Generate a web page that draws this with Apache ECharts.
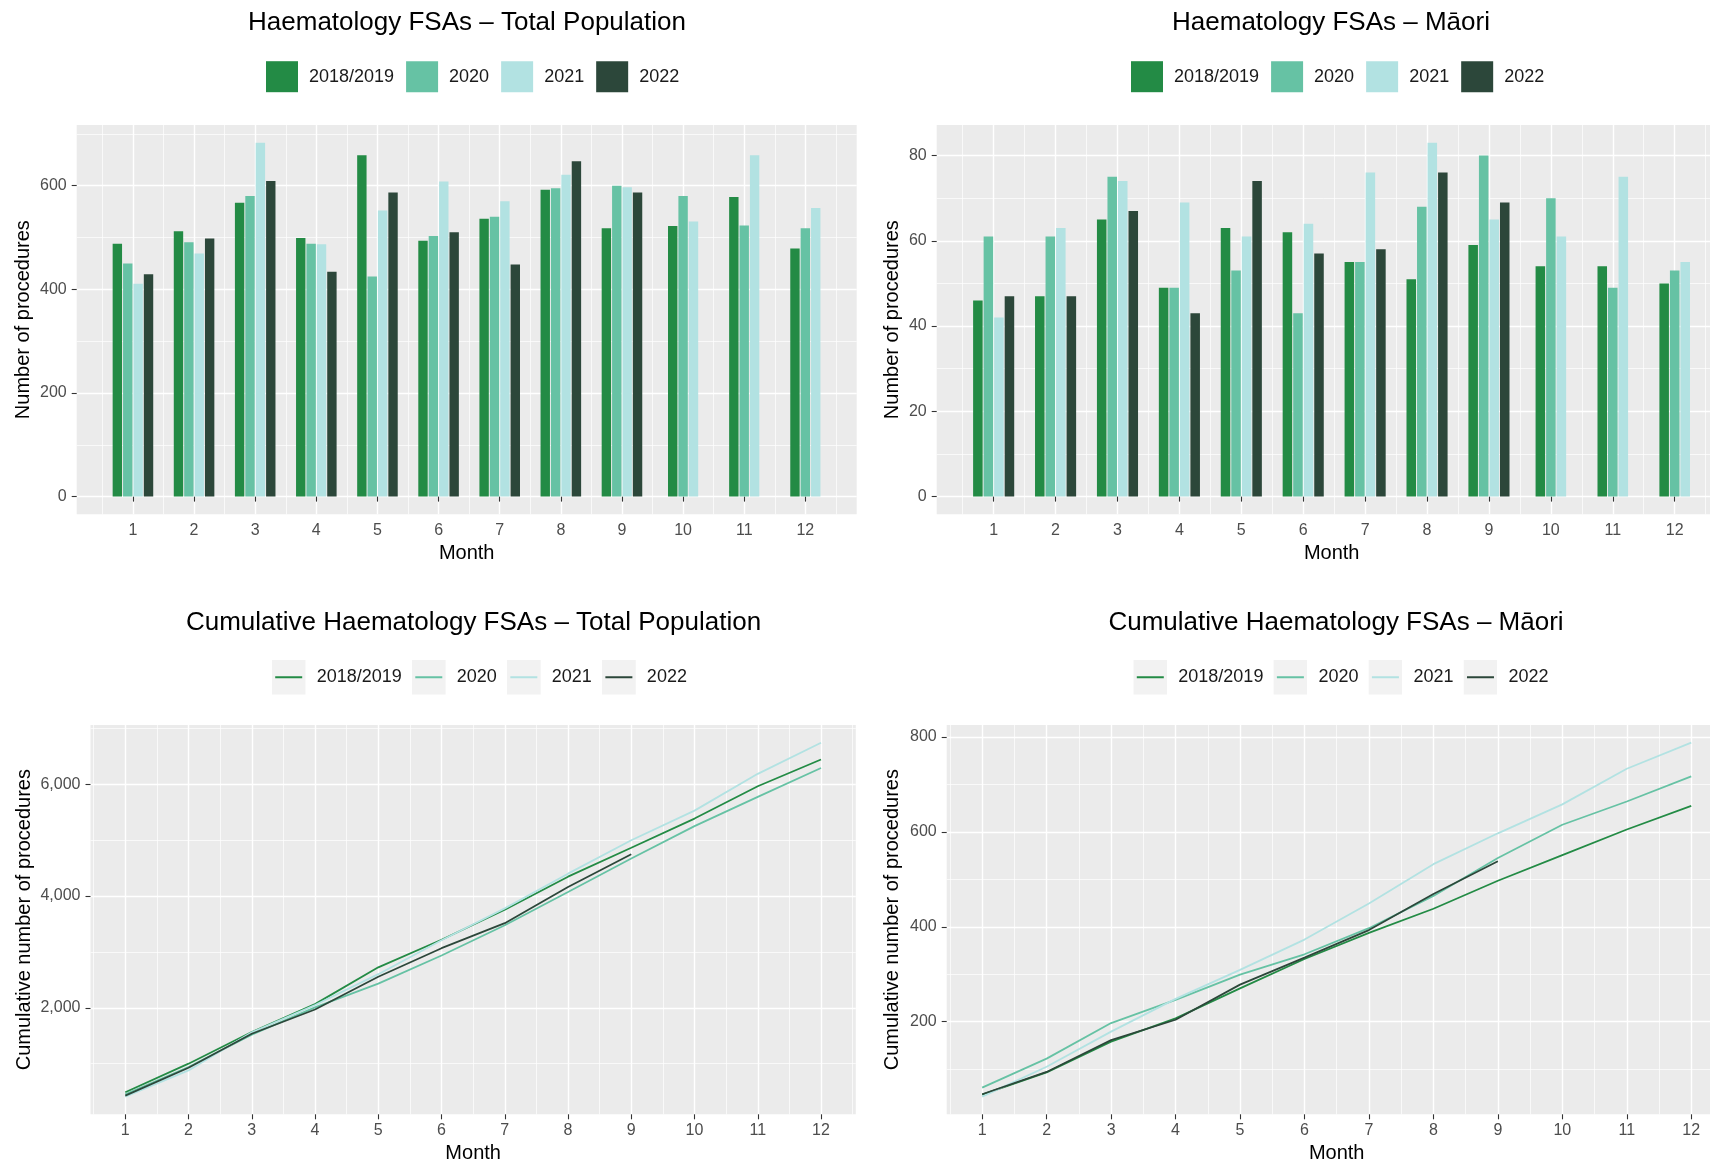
<!DOCTYPE html>
<html>
<head>
<meta charset="utf-8">
<title>Haematology FSAs</title>
<script src="https://cdn.jsdelivr.net/npm/echarts@6/dist/echarts.min.js"></script>
<style>
  html, body { margin: 0; padding: 0; background: #ffffff; }
  #chart { width: 1710px; height: 1165px; }
</style>
</head>
<body>
<div id="chart"></div>
<script>
// ---- Data -------------------------------------------------------------
const years = ['2018/2019', '2020', '2021', '2022'];
const months = [1, 2, 3, 4, 5, 6, 7, 8, 9, 10, 11, 12];
const halfMonths = [0.5, 1.5, 2.5, 3.5, 4.5, 5.5, 6.5, 7.5, 8.5, 9.5, 10.5, 11.5, 12.5];

// Monthly FSAs, total population
const total2018 = [488, 512, 567, 499, 659, 494, 536, 592, 518, 522, 578, 479];
const total2020 = [450, 491, 580, 488, 425, 503, 540, 595, 600, 580, 523, 518];
const total2021 = [411, 469, 683, 487, 552, 608, 570, 621, 597, 531, 659, 557];
const total2022 = [429, 498, 609, 434, 587, 510, 448, 647, 587, null, null, null];

// Monthly FSAs, Māori
const maori2018 = [46, 47, 65, 49, 63, 62, 55, 51, 59, 54, 54, 50];
const maori2020 = [61, 61, 75, 49, 53, 43, 55, 68, 80, 70, 49, 53];
const maori2021 = [42, 63, 74, 69, 61, 64, 76, 83, 65, 61, 75, 55];
const maori2022 = [47, 47, 67, 43, 74, 57, 58, 76, 69, null, null, null];

// Cumulative FSAs, total population
const cumTotal2018 = [488, 1000, 1567, 2066, 2725, 3219, 3755, 4347, 4865, 5387, 5965, 6444];
const cumTotal2020 = [450, 941, 1521, 2009, 2434, 2937, 3477, 4072, 4672, 5252, 5775, 6293];
const cumTotal2021 = [411, 880, 1563, 2050, 2602, 3210, 3780, 4401, 4998, 5529, 6188, 6745];
const cumTotal2022 = [429, 927, 1536, 1970, 2557, 3067, 3515, 4162, 4749];

// Cumulative FSAs, Māori
const cumMaori2018 = [46, 93, 158, 207, 270, 332, 387, 438, 497, 551, 605, 655];
const cumMaori2020 = [61, 122, 197, 246, 299, 342, 397, 465, 545, 615, 664, 717];
const cumMaori2021 = [42, 105, 179, 248, 309, 373, 449, 532, 597, 658, 733, 788];
const cumMaori2022 = [47, 94, 161, 204, 278, 335, 393, 469, 538];

// Axis breaks
const totalTicks = [0, 200, 400, 600];
const totalMinorTicks = [100, 300, 500, 700];
const maoriTicks = [0, 20, 40, 60, 80];
const maoriMinorTicks = [10, 30, 50, 70];
const cumTotalTicks = [2000, 4000, 6000];
const cumTotalMinorTicks = [1000, 3000, 5000, 7000];
const cumMaoriTicks = [200, 400, 600, 800];
const cumMaoriMinorTicks = [100, 300, 500, 700];

// ---- Styling ------------------------------------------------------------
const FONT = "'Liberation Sans', Arial, Helvetica, sans-serif";
const COLORS = ['#238B45', '#66C2A4', '#B2E2E2', '#2C473A'];
const PANEL = '#EBEBEB';
const SLOT = 0.17;           // width of one dodged bar, in month units

// Continuous scale limits with 5% padding around the data extent
function padded(lo, hi) {
  const d = (hi - lo) * 0.05;
  return [lo - d, hi + d];
}

function pairAxes(grid, range, major, minor, extra) {
  const main = Object.assign({
    type: 'value', gridIndex: grid, min: range[0], max: range[1],
    axisLine: { show: false },
    axisTick: { show: true, length: 5, customValues: major, lineStyle: { color: '#333333', width: 1.1 } },
    axisLabel: { show: true, customValues: major, color: '#4D4D4D', fontSize: 16, fontFamily: FONT },
    splitLine: { show: true, lineStyle: { color: '#FFFFFF', width: 1.4 } },
    nameLocation: 'middle',
    nameTextStyle: { color: '#000000', fontSize: 20, fontFamily: FONT }
  }, extra);
  main.axisLabel = Object.assign(main.axisLabel, extra.axisLabelExtra || {});
  delete main.axisLabelExtra;
  const sub = {
    type: 'value', gridIndex: grid, min: range[0], max: range[1],
    axisLine: { show: false },
    axisTick: { show: false, customValues: minor },
    axisLabel: { show: false },
    splitLine: { show: true, lineStyle: { color: '#FFFFFF', width: 0.7 } }
  };
  return [main, sub];
}

const thousands = v => Number(v).toLocaleString('en-US');

// ---- Layout -------------------------------------------------------------
const grids = [
  { left: 76.7, top: 125, width: 780, height: 389.3 },
  { left: 936.7, top: 125, width: 790, height: 389.3 },
  { left: 90.5, top: 725, width: 765.3, height: 389.3 },
  { left: 946.7, top: 725, width: 780, height: 389.3 }
].map(g => Object.assign(g, {
  show: true, backgroundColor: PANEL, borderWidth: 0,
  containLabel: false, outerBoundsMode: 'none'
}));

const barX = [0.08, 12.84];
const lineX = padded(1, 12);

const xAxes = [].concat(
  pairAxes(0, barX, months, halfMonths, { name: 'Month', nameGap: 29, axisLabelExtra: { margin: 8 } }),
  pairAxes(1, barX, months, halfMonths, { name: 'Month', nameGap: 29, axisLabelExtra: { margin: 8 } }),
  pairAxes(2, lineX, months, halfMonths, { name: 'Month', nameGap: 29, axisLabelExtra: { margin: 8 } }),
  pairAxes(3, lineX, months, halfMonths, { name: 'Month', nameGap: 29, axisLabelExtra: { margin: 8 } })
);

const yAxes = [].concat(
  pairAxes(0, padded(0, 683), totalTicks, totalMinorTicks,
    { name: 'Number of procedures', nameGap: 43, axisLabelExtra: { margin: 10 } }),
  pairAxes(1, padded(0, 83), maoriTicks, maoriMinorTicks,
    { name: 'Number of procedures', nameGap: 34, axisLabelExtra: { margin: 10 } }),
  pairAxes(2, padded(411, 6745), cumTotalTicks, cumTotalMinorTicks,
    { name: 'Cumulative number of procedures', nameGap: 56, axisLabelExtra: { margin: 10, formatter: thousands } }),
  pairAxes(3, padded(42, 788), cumMaoriTicks, cumMaoriMinorTicks,
    { name: 'Cumulative number of procedures', nameGap: 44, axisLabelExtra: { margin: 10 } })
);

// ---- Series ---------------------------------------------------------------
// Dodged bars: months with fewer years keep their bars centred on the month.
function barSeries(grid, table) {
  return table.map((vals, s) => {
    const data = [];
    vals.forEach((v, m) => {
      if (v == null) return;
      let idx = 0, n = 0;
      table.forEach((other, o) => {
        if (other[m] != null) { n++; if (o < s) idx++; }
      });
      data.push([months[m], v, idx, n]);
    });
    return {
      name: years[s], type: 'custom',
      xAxisIndex: grid * 2, yAxisIndex: grid * 2,
      itemStyle: { color: COLORS[s] },
      encode: { x: 0, y: 1 },
      data: data,
      renderItem: function (params, api) {
        const m = api.value(0), v = api.value(1), idx = api.value(2), n = api.value(3);
        const c = m + (idx - (n - 1) / 2) * SLOT;
        const p0 = api.coord([c - SLOT / 2, v]);
        const p1 = api.coord([c + SLOT / 2, 0]);
        return {
          type: 'rect',
          shape: { x: p0[0] + 0.5, y: p0[1], width: p1[0] - p0[0] - 1, height: p1[1] - p0[1] },
          style: { fill: api.visual('color') }
        };
      }
    };
  });
}

function lineSeries(grid, table) {
  return table.map((vals, s) => ({
    name: years[s], type: 'line',
    xAxisIndex: grid * 2, yAxisIndex: grid * 2,
    symbol: 'none', showSymbol: false,
    lineStyle: { color: COLORS[s], width: 1.8 },
    itemStyle: { color: COLORS[s] },
    data: vals.map((v, i) => [months[i], v])
  }));
}

const series = [].concat(
  barSeries(0, [total2018, total2020, total2021, total2022]),
  barSeries(1, [maori2018, maori2020, maori2021, maori2022]),
  lineSeries(2, [cumTotal2018, cumTotal2020, cumTotal2021, cumTotal2022]),
  lineSeries(3, [cumMaori2018, cumMaori2020, cumMaori2021, cumMaori2022])
);

// ---- Titles and legends --------------------------------------------------------
const titleStyle = { fontSize: 26, fontWeight: 'normal', color: '#000000', fontFamily: FONT };
const titles = [
  { text: 'Haematology FSAs – Total Population', left: 462, top: 5 },
  { text: 'Haematology FSAs – Māori', left: 1326, top: 5 },
  { text: 'Cumulative Haematology FSAs – Total Population', left: 468.5, top: 605 },
  { text: 'Cumulative Haematology FSAs – Māori', left: 1331, top: 605 }
].map(t => Object.assign(t, { textAlign: 'center', textStyle: titleStyle }));

const legendText = { fontSize: 18, color: '#1A1A1A', fontFamily: FONT, padding: [0, 0, 0, 6] };

function lineKey(color) {
  const svg = "<svg xmlns='http://www.w3.org/2000/svg' width='34' height='35'>" +
    "<rect width='34' height='35' fill='#F2F2F2'/>" +
    "<line x1='3.5' y1='17.5' x2='30.5' y2='17.5' stroke='" + color + "' stroke-width='2'/></svg>";
  return 'image://data:image/svg+xml;charset=utf-8,' + encodeURIComponent(svg);
}

function barLegend(left) {
  return {
    left: left, top: 56.2, orient: 'horizontal',
    itemWidth: 32, itemHeight: 31, itemGap: 12, icon: 'rect',
    data: years.slice(), textStyle: legendText
  };
}
function lineLegend(left) {
  return {
    left: left, top: 654.7, orient: 'horizontal',
    itemWidth: 34, itemHeight: 35, itemGap: 10,
    data: years.map((y, i) => ({ name: y, icon: lineKey(COLORS[i]) })),
    textStyle: legendText
  };
}

const chart = echarts.init(document.getElementById('chart'), null, { renderer: 'canvas' });
chart.setOption({
  animation: false,
  backgroundColor: '#FFFFFF',
  textStyle: { fontFamily: FONT },
  title: titles,
  legend: [barLegend(261), barLegend(1126), lineLegend(266.7), lineLegend(1128.3)],
  grid: grids,
  xAxis: xAxes,
  yAxis: yAxes,
  series: series
});
</script>
</body>
</html>
